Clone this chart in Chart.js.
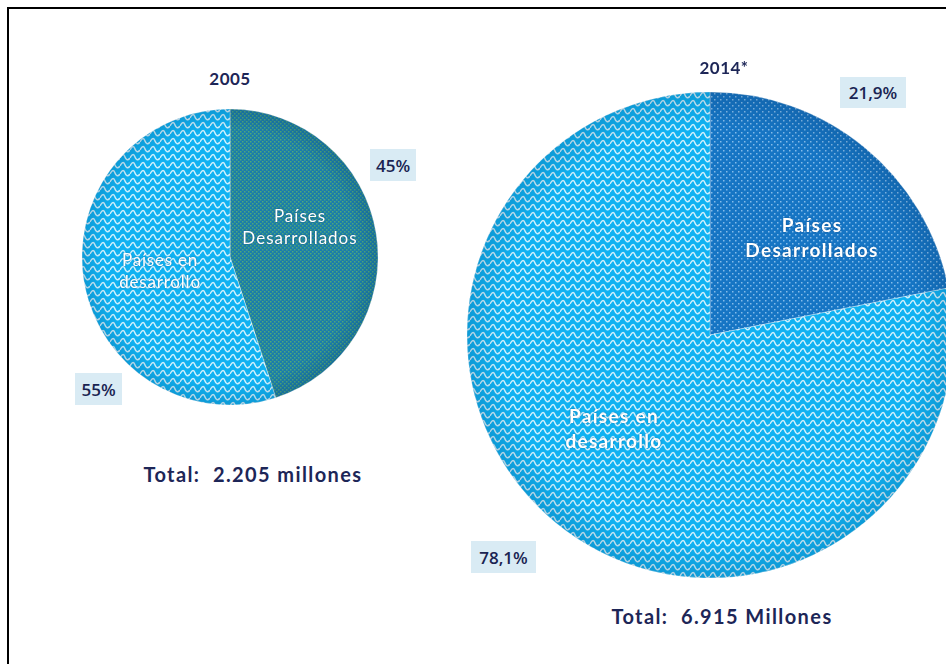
<!DOCTYPE html>
<html lang="es">
<head>
<meta charset="utf-8">
<title>Población por grupo de países</title>
<script src="https://cdn.jsdelivr.net/npm/chart.js@4.4.1/dist/chart.umd.min.js"></script>
<style>
  html, body { margin: 0; padding: 0; background: #fff; overflow: hidden; }
  body { width: 946px; height: 664px; position: relative; font-family: "Lato", "DejaVu Sans", sans-serif; }
  .frame { position: absolute; left: 7px; top: 7px; width: 1000px; height: 700px; border-left: 2px solid #000; border-top: 2px solid #000; }
  canvas { position: absolute; }
  .txt { position: absolute; white-space: nowrap; transform: translate(-50%, -50%); }
  .title { font-weight: 700; font-size: 17px; color: #1d2657; letter-spacing: 0.5px; }
  .total { font-weight: 700; font-size: 20px; color: #1d2657; letter-spacing: 1.4px; }
  .inner { color: #fff; text-align: center; line-height: 1.3; text-shadow: 0 0 2px rgba(0,40,90,0.5); }
  .pct { position: absolute; background: #d9ebf4; color: #1a2452; font-family: "Open Sans", sans-serif;
         font-size: 17px; font-weight: 600; display: flex; align-items: center; justify-content: center; }
</style>
</head>
<body>
<div class="frame"></div>
<canvas id="pie2005" width="320" height="320" style="left:70px; top:97px"></canvas>
<canvas id="pie2014" width="520" height="520" style="left:450px; top:75px"></canvas>

<div class="txt title" style="left:230px; top:78px">2005</div>
<div class="txt title" style="left:724px; top:67px">2014*</div>
<div class="txt inner" id="lblDev2005" style="left:300px; top:227px; font-size:17px; letter-spacing:1px"></div>
<div class="txt inner" id="lblEnd2005" style="left:160px; top:271px; font-size:17px; letter-spacing:0.8px"></div>
<div class="txt inner" id="lblDev2014" style="left:812px; top:238px; font-size:19px; font-weight:700; letter-spacing:1.3px"></div>
<div class="txt inner" id="lblEnd2014" style="left:614px; top:429px; font-size:19px; font-weight:700; letter-spacing:1.3px"></div>

<div class="pct" id="pctDev2005" style="left:370px; top:149px; width:46px; height:32px"></div>
<div class="pct" id="pctEnd2005" style="left:75px; top:373px; width:47px; height:32px"></div>
<div class="pct" id="pctDev2014" style="left:840px; top:77px; width:66px; height:31px"></div>
<div class="pct" id="pctEnd2014" style="left:471px; top:541px; width:65px; height:32px"></div>

<div class="txt total" id="total2005" style="left:253px; top:474px"></div>
<div class="txt total" id="total2014" style="left:722px; top:616px"></div>

<script>
// --- Data ---
const categories = ['Países Desarrollados', 'Países en desarrollo'];
const share2005 = [45, 55];
const share2014 = [21.9, 78.1];
const total2005 = '2.205 millones';
const total2014 = '6.915 Millones';

// --- Fill patterns ---
function makeTile(w, h, base, draw) {
    const c = document.createElement('canvas');
    c.width = w; c.height = h;
    const g = c.getContext('2d');
    g.fillStyle = base;
    g.fillRect(0, 0, w, h);
    draw(g);
    return document.createElement('canvas').getContext('2d').createPattern(c, 'repeat');
}

// light blue with white waves
const wavePattern = makeTile(10, 8, '#0fb2f2', g => {
    g.strokeStyle = 'rgba(255,255,255,0.8)';
    g.lineWidth = 1.5;
    for (const dy of [-8, 0, 8]) {
        g.beginPath();
        g.moveTo(0, 5 + dy);
        g.bezierCurveTo(2.5, 0 + dy, 4, 1 + dy, 5, 4 + dy);
        g.bezierCurveTo(6, 7 + dy, 8, 8 + dy, 10, 5 + dy);
        g.stroke();
    }
});

// teal blue with small green dots (2005)
const tealDots = makeTile(4, 4, '#1a7dab', g => {
    g.fillStyle = '#4fa77a';
    g.fillRect(0, 0, 1.5, 1.5);
    g.fillRect(2, 2, 1.5, 1.5);
});

// strong blue with pale dots (2014)
const blueDots = makeTile(6, 6, '#1675c4', g => {
    g.fillStyle = 'rgba(170,210,245,0.75)';
    g.fillRect(0, 0, 1.5, 1.5);
    g.fillRect(3, 3, 1.5, 1.5);
});

// soft darkening towards the rim
const rimShade = {
    id: 'rimShade',
    afterDatasetsDraw(chart) {
        const arc = chart.getDatasetMeta(0).data[0];
        if (!arc) return;
        const { x, y, outerRadius: r } = arc;
        const ctx = chart.ctx;
        const grad = ctx.createRadialGradient(x, y, r * 0.86, x, y, r);
        grad.addColorStop(0, 'rgba(0,30,70,0)');
        grad.addColorStop(1, 'rgba(0,30,70,0.16)');
        ctx.save();
        ctx.beginPath();
        ctx.arc(x, y, r, 0, Math.PI * 2);
        ctx.fillStyle = grad;
        ctx.fill();
        ctx.restore();
    }
};

function makePie(id, values, colors, radius) {
    return new Chart(document.getElementById(id), {
        type: 'pie',
        data: {
            labels: categories,
            datasets: [{
                data: values,
                backgroundColor: colors,
                borderColor: 'rgba(255,255,255,0.35)',
                borderWidth: 1,
                radius: radius
            }]
        },
        options: {
            responsive: false,
            animation: false,
            layout: { padding: 0 },
            plugins: { legend: { display: false }, tooltip: { enabled: false } }
        },
        plugins: [rimShade]
    });
}

makePie('pie2005', share2005, [tealDots, wavePattern], 148);
makePie('pie2014', share2014, [blueDots, wavePattern], 243);

// --- Labels ---
const fmt = v => v.toLocaleString('es-ES', { maximumFractionDigits: 1 }) + '%';
document.getElementById('pctDev2005').textContent = fmt(share2005[0]);
document.getElementById('pctEnd2005').textContent = fmt(share2005[1]);
document.getElementById('pctDev2014').textContent = fmt(share2014[0]);
document.getElementById('pctEnd2014').textContent = fmt(share2014[1]);

const devLabel = 'Países<br>Desarrollados';
const endLabel = 'Países en<br>desarrollo';
document.getElementById('lblDev2005').innerHTML = devLabel;
document.getElementById('lblEnd2005').innerHTML = endLabel;
document.getElementById('lblDev2014').innerHTML = devLabel;
document.getElementById('lblEnd2014').innerHTML = endLabel;

document.getElementById('total2005').innerHTML = 'Total:&nbsp; ' + total2005;
document.getElementById('total2014').innerHTML = 'Total:&nbsp; ' + total2014;
</script>
</body>
</html>
